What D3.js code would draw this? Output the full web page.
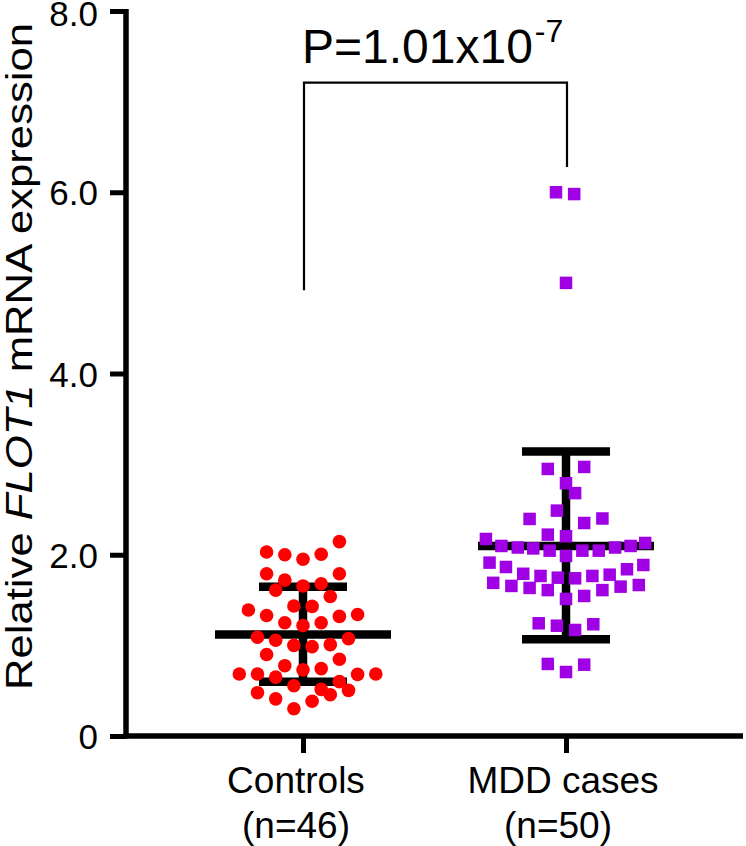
<!DOCTYPE html>
<html>
<head>
<meta charset="utf-8">
<script src="https://cdn.jsdelivr.net/npm/d3@7"></script>
<style>
  html, body { margin: 0; padding: 0; background: #fff; }
  svg { display: block; font-family: "Liberation Sans", Arial, Helvetica, sans-serif; }
</style>
</head>
<body>
<svg id="chart" width="746" height="846"></svg>
<script>
// ---------------- data ----------------
const groups = ["Controls", "MDD cases"];
const groupLabels = [["Controls", "(n=46)"], ["MDD cases", "(n=50)"]];
const yTicks = [0, 2, 4, 6, 8];
const yTickLabels = ["0", "2.0", "4.0", "6.0", "8.0"];

// Controls (n=46): relative expression values, and beeswarm column (jitter) index
const controlValues = [2.145, 2.03, 2.0, 1.95, 2.005, 1.79, 1.72, 1.656, 1.68, 1.79,
  1.61, 1.54, 1.435, 1.43, 1.39, 1.33, 1.25, 1.22, 1.25, 1.32,
  1.34, 1.09, 1.056, 1.0, 0.986, 1.008, 1.074, 0.90, 0.847, 0.776,
  0.73, 0.743, 0.684, 0.684, 0.65, 0.68, 0.684, 0.555, 0.60, 0.515,
  0.456, 0.504, 0.478, 0.41, 0.383, 0.30];
const controlJitter = [4, -4, -2, 0, 2, -4, -2, 0, 2, 4,
  -3, 3, -1, 1, -6, -4, -2, 0, 2, 4,
  6, -5, -3, -1, 1, 3, 5, -4, 4, -2,
  0, 2, -7, -5, -3, 6, 8, -1, 4, 2,
  3, 5, -5, -3, 1, -1];

// MDD cases (n=50)
const mddValues = [6.0, 5.98, 5.0,
  2.947, 2.969, 2.789, 2.68, 2.487, 2.395, 2.35, 2.40, 2.222, 2.204,
  2.174, 2.097, 2.08, 2.07, 2.045, 1.987, 2.045, 2.045, 2.08, 2.097, 2.13,
  1.913, 1.865, 1.79, 1.766, 1.747, 1.74, 1.766, 1.78, 1.84, 1.887,
  1.69, 1.656, 1.634, 1.61, 1.61, 1.648, 1.666,
  1.512, 1.545,
  1.244, 1.217, 1.17, 1.233,
  0.795, 0.706, 0.787];
const mddJitter = [-1.1, 0.9, 0,
  -2, 2, 0, 1, -1, -4, 2, 4, -2, 0,
  -8.8, -7.1, -5.3, -3.6, -1.8, 0, 1.8, 3.6, 5.4, 7.1, 8.7,
  -8.4, -6.6, -4.7, -2.8, -0.9, 1.0, 2.9, 4.8, 6.7, 8.5,
  -8, -6, -4, -2, 4, 6, 8,
  0, 2,
  -3, -1, 1, 3,
  -2, 0, 2];

// mean and SD bars
const means = [1.12, 2.097];
const sdUpper = [1.648, 3.138];
const sdLower = [0.60, 1.067];

// significance annotation
const pText = "P=1.01x10";
const pExp = "-7";
const bracketTop = 7.21, bracketLeftEnd = 4.92, bracketRightEnd = 6.28;

// ---------------- drawing ----------------
const svg = d3.select("#chart");
const x = d3.scalePoint().domain(groups).range([126, 743]).padding(0.673);
const y = d3.scaleLinear().domain([0, 8]).range([736, 11]);
const jitterStep = 9.1;

const red = "#ff0000";
const purple = "#a000e4";

// Y axis
const yAxis = d3.axisLeft(y).tickValues(yTicks)
  .tickFormat((d, i) => yTickLabels[i]).tickSize(16).tickSizeOuter(0).tickPadding(12);
const gy = svg.append("g").attr("transform", "translate(126,0)").call(yAxis);
gy.select(".domain").attr("stroke", "#000").attr("stroke-width", 5.5)
  .attr("d", `M0,${y(8) - 2}V${y(0) + 2.5}`);
gy.selectAll(".tick line").attr("stroke", "#000").attr("stroke-width", 5);
gy.selectAll(".tick text").attr("font-size", 35).attr("fill", "#000")
  .attr("font-family", "Liberation Sans, Arial, sans-serif")
  .attr("dy", d => d === 8 ? "0.42em" : "0.36em");

// X axis
const xAxis = d3.axisBottom(x).tickSize(17).tickSizeOuter(0).tickFormat("");
const gx = svg.append("g").attr("transform", `translate(0,${y(0)})`).call(xAxis);
gx.select(".domain").attr("stroke", "#000").attr("stroke-width", 5.5)
  .attr("d", `M123,0H743`);
gx.selectAll(".tick line").attr("stroke", "#000").attr("stroke-width", 5);

// x labels
const labelShift = [-7, -3];
groups.forEach((g, i) => {
  const t = svg.append("text").attr("text-anchor", "middle").attr("font-size", 37).attr("fill", "#000");
  t.append("tspan").attr("x", x(g) + labelShift[i]).attr("y", 793).text(groupLabels[i][0]);
  t.append("tspan").attr("x", x(g) + labelShift[i] - (i === 1 ? 5 : 0)).attr("y", 838).text(groupLabels[i][1]);
});

// Y title (stretched along its length like the reference)
const yt = svg.append("text")
  .attr("transform", `translate(32,${(y(0) + y(8)) / 2 - 17}) rotate(-90) scale(1.18,1)`)
  .attr("text-anchor", "middle").attr("font-size", 37).attr("fill", "#000");
yt.append("tspan").text("Relative ");
yt.append("tspan").attr("font-style", "italic").text("FLOT1");
yt.append("tspan").text(" mRNA expression");

// mean / SD bars (under points)
const barW = 8.5;
groups.forEach((g, i) => {
  const cx = x(g);
  const gb = svg.append("g").attr("stroke", "#000").attr("stroke-width", barW);
  gb.append("line").attr("x1", cx).attr("x2", cx).attr("y1", y(sdUpper[i])).attr("y2", y(sdLower[i]));
  gb.append("line").attr("x1", cx - 44).attr("x2", cx + 44).attr("y1", y(sdUpper[i])).attr("y2", y(sdUpper[i]));
  gb.append("line").attr("x1", cx - 44).attr("x2", cx + 44).attr("y1", y(sdLower[i])).attr("y2", y(sdLower[i]));
  gb.append("line").attr("x1", cx - 88).attr("x2", cx + 88).attr("y1", y(means[i])).attr("y2", y(means[i]));
});

// Controls points (circles)
svg.append("g").selectAll("circle")
  .data(controlValues.map((v, i) => ({ v, j: controlJitter[i] })))
  .join("circle")
  .attr("cx", d => x("Controls") + d.j * jitterStep)
  .attr("cy", d => y(d.v))
  .attr("r", 6.8)
  .attr("fill", red);

// MDD points (squares)
const sq = 12.5;
svg.append("g").selectAll("rect")
  .data(mddValues.map((v, i) => ({ v, j: mddJitter[i] })))
  .join("rect")
  .attr("x", d => x("MDD cases") + d.j * jitterStep - sq / 2)
  .attr("y", d => y(d.v) - sq / 2)
  .attr("width", sq).attr("height", sq)
  .attr("fill", purple);

// significance bracket
const xl = x("Controls") + 1, xr = x("MDD cases") + 1;
svg.append("path")
  .attr("d", `M${xl},${y(bracketLeftEnd)}V${y(bracketTop)}H${xr}V${y(bracketRightEnd)}`)
  .attr("fill", "none").attr("stroke", "#000").attr("stroke-width", 2.2);

const pt = svg.append("text").attr("x", xl - 2).attr("y", 63).attr("font-size", 48).attr("fill", "#000");
pt.append("tspan").text(pText);
pt.append("tspan").attr("font-size", 32).attr("dx", 2).attr("dy", -21).text(pExp);
</script>
</body>
</html>
